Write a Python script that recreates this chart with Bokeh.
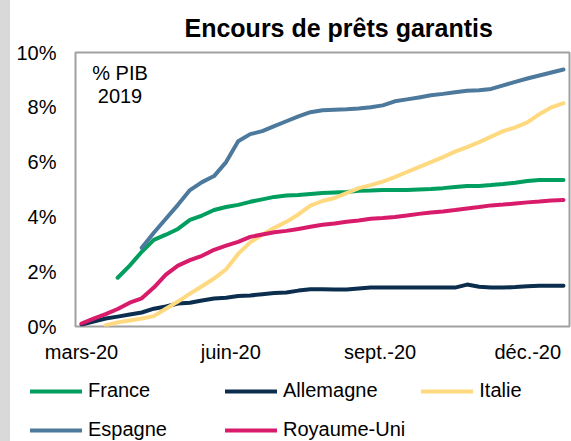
import pandas as pd
from bokeh.plotting import figure
from bokeh.layouts import row, column
from bokeh.models import (Range1d, FixedTicker, PrintfTickFormatter, Legend,
                          LegendItem, Label, Div)
from bokeh.embed import file_html
from bokeh.resources import INLINE

nan = float("nan")

# ~weekly observations, early March to late December 2020
dates = pd.date_range("2020-03-01", "2020-12-23", periods=41)

france = [nan, nan, nan,
          1.78, 2.22, 2.73, 3.16, 3.35, 3.56, 3.89, 4.05, 4.25, 4.36, 4.44,
          4.55, 4.64, 4.73, 4.78, 4.80, 4.84, 4.87, 4.89, 4.91, 4.95, 4.96,
          4.98, 4.98, 4.98, 5.00, 5.02, 5.05, 5.09, 5.13, 5.13, 5.16, 5.20,
          5.25, 5.31, 5.35, 5.35, 5.35]
allemagne = [0.07, 0.18, 0.29, 0.36, 0.44, 0.51, 0.65, 0.73, 0.84, 0.87,
             0.95, 1.02, 1.05, 1.11, 1.13, 1.18, 1.22, 1.24, 1.31, 1.36,
             1.36, 1.35, 1.35, 1.39, 1.42, 1.42, 1.42, 1.42, 1.42, 1.42,
             1.42, 1.42, 1.53, 1.45, 1.42, 1.42, 1.44, 1.47, 1.49, 1.49, 1.49]
italie = [nan, nan,
          0.04, 0.15, 0.22, 0.29, 0.38, 0.65, 0.91, 1.20,
          1.47, 1.75, 2.09, 2.65, 3.07, 3.35, 3.60, 3.82, 4.09, 4.41,
          4.58, 4.69, 4.87, 5.05, 5.16, 5.29, 5.45, 5.64, 5.82, 6.00,
          6.18, 6.38, 6.55, 6.73, 6.93, 7.13, 7.27, 7.45, 7.75, 8.00, 8.15]
espagne = [nan, nan, nan, nan, nan,
           2.87, 3.42, 3.93, 4.44, 4.98,
           5.27, 5.49, 6.00, 6.76, 7.02, 7.13, 7.31, 7.49, 7.67, 7.82,
           7.89, 7.91, 7.93, 7.96, 8.00, 8.07, 8.22, 8.29, 8.36, 8.44,
           8.49, 8.55, 8.60, 8.62, 8.67, 8.80, 8.93, 9.05, 9.16, 9.27, 9.38]
royaume_uni = [0.11, 0.29, 0.45, 0.64, 0.87, 1.03, 1.42, 1.89, 2.22, 2.42,
               2.58, 2.80, 2.95, 3.09, 3.27, 3.36, 3.44, 3.49, 3.56, 3.64,
               3.71, 3.76, 3.82, 3.87, 3.93, 3.96, 4.00, 4.05, 4.11, 4.16,
               4.20, 4.25, 4.31, 4.36, 4.42, 4.45, 4.49, 4.53, 4.56, 4.60, 4.62]

series_names = ["France", "Allemagne", "Italie", "Espagne", "Royaume-Uni"]
series_values = [france, allemagne, italie, espagne, royaume_uni]
series_colors = ["#009E5F", "#0C2E4E", "#FFD980", "#4D7A9C", "#D81B6A"]

tick_dates = ["2020-03-01", "2020-06-01", "2020-09-01", "2020-12-01"]
tick_labels = ["mars-20", "juin-20", "sept.-20", "déc.-20"]
y_ticks = [0, 2, 4, 6, 8, 10]

FONT = "Liberation Sans"

origin = dates[0]
x_days = [(d - origin).total_seconds() / 86400.0 for d in dates]
step = x_days[1] - x_days[0]
tick_pos = [(pd.Timestamp(t) - origin).total_seconds() / 86400.0 for t in tick_dates]

# ---------------- main chart ----------------
p = figure(width=561, height=369, output_backend="svg", toolbar_location=None,
           x_range=Range1d(x_days[0] - step / 2, x_days[-1] + step / 2),
           y_range=Range1d(0, 10),
           min_border_left=65, min_border_right=2, min_border_top=51,
           min_border_bottom=43)
p.frame_align = False

p.background_fill_color = "white"
p.border_fill_color = "white"
p.outline_line_color = "#A0A0A0"
p.outline_line_width = 2
p.xgrid.visible = False
p.ygrid.visible = False

p.title.text = "Encours de prêts garantis"
p.title.text_font = FONT
p.title.text_font_style = "bold"
p.title.text_font_size = "25px"
p.title.align = "left"
p.title.offset = 109
p.title.standoff = 22
p.title.text_color = "black"

xa = p.xaxis[0]
xa.ticker = FixedTicker(ticks=tick_pos)
xa.major_label_overrides = {tp: lab for tp, lab in zip(tick_pos, tick_labels)}
ya = p.yaxis[0]
ya.ticker = FixedTicker(ticks=y_ticks)
ya.formatter = PrintfTickFormatter(format="%d%%")
for ax in (xa, ya):
    ax.axis_line_color = None
    ax.major_tick_line_color = None
    ax.minor_tick_line_color = None
    ax.major_tick_out = 0
    ax.major_tick_in = 0
    ax.minor_tick_out = 0
    ax.major_label_text_font = FONT
    ax.major_label_text_font_size = "20px"
    ax.major_label_text_color = "black"
xa.major_label_standoff = 14
ya.major_label_standoff = 19

for name, vals, col in zip(series_names, series_values, series_colors):
    p.line(x_days, vals, line_color=col, line_width=4,
           line_cap="round", line_join="round")

for txt, yy in (("% PIB", 254), ("2019", 231)):
    p.add_layout(Label(x=44.5, y=yy, x_units="screen", y_units="screen",
                       text=txt, text_align="center", text_baseline="middle",
                       text_font=FONT, text_font_size="20px",
                       text_color="black"))

# ---------------- legend strip ----------------
lg = figure(width=561, height=72, output_backend="svg", toolbar_location=None,
            x_range=Range1d(0, 1), y_range=Range1d(0, 1),
            x_axis_type=None, y_axis_type=None,
            min_border_left=0, min_border_right=0, min_border_top=0,
            min_border_bottom=0)
lg.frame_align = False
lg.outline_line_color = None
lg.xgrid.visible = False
lg.ygrid.visible = False

items = []
for name, col in zip(series_names, series_colors):
    r = lg.line([nan], [nan], line_color=col, line_width=4, line_cap="round")
    items.append(LegendItem(label=name, renderers=[r]))

legend = Legend(items=items, location=(20, 0), orientation="horizontal",
                ncols=3, glyph_width=52, glyph_height=22, label_height=22,
                label_width=121, label_standoff=6, spacing=16, padding=0,
                margin=0, border_line_color=None, background_fill_alpha=0,
                label_text_font=FONT, label_text_font_size="20px",
                label_text_color="black")
lg.add_layout(legend, "center")

band = Div(width=10, height=441, margin=0,
           styles={"background-color": "#D9D9D9"})

layout = row(band, column(p, lg, spacing=0), spacing=0)
open("out.html", "w").write(file_html(layout, INLINE))
